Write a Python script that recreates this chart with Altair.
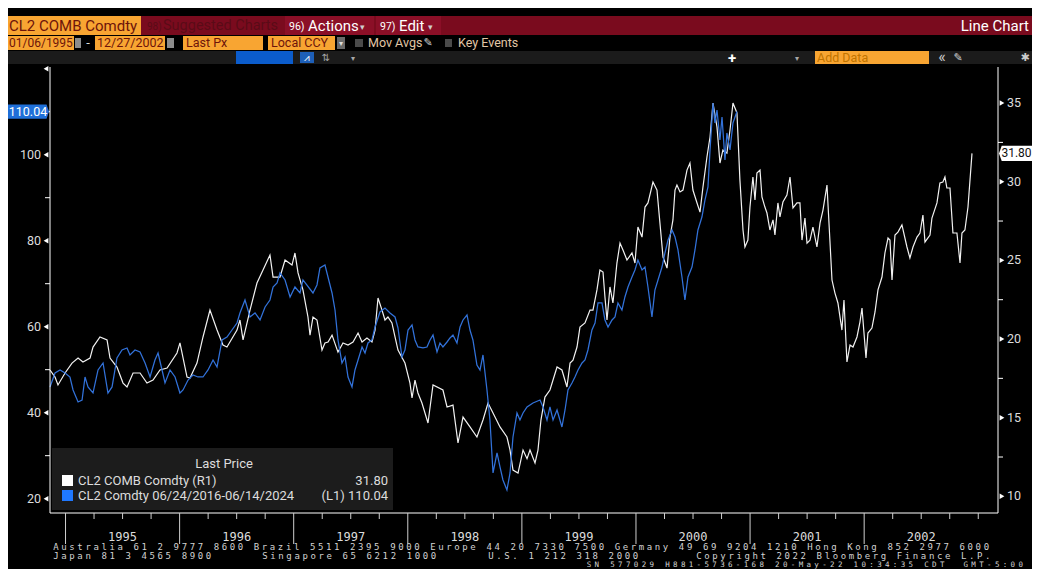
import altair as alt
import pandas as pd

# ---------------- data ----------------
# CL2 COMB Comdty (right axis), x in decimal years of the drawn time axis
white_t = [1994.864, 1994.908, 1994.934, 1994.996, 1995.057, 1995.110, 1995.153, 1995.215, 1995.241, 1995.302,
           1995.364, 1995.390, 1995.451, 1995.504, 1995.539, 1995.592, 1995.653, 1995.714, 1995.767, 1995.828,
           1995.890, 1995.977, 1996.003, 1996.065, 1996.091, 1996.152, 1996.205, 1996.266, 1996.328, 1996.380,
           1996.415, 1996.503, 1996.529, 1996.556, 1996.617, 1996.678, 1996.731, 1996.792, 1996.819, 1996.880,
           1996.924, 1996.985, 1997.011, 1997.038, 1997.081, 1997.125, 1997.143, 1997.169, 1997.204, 1997.248,
           1997.274, 1997.301, 1997.336, 1997.388, 1997.432, 1997.476, 1997.520, 1997.564, 1997.599, 1997.642,
           1997.686, 1997.713, 1997.739, 1997.774, 1997.800, 1997.826, 1997.861, 1997.888, 1997.914, 1997.975,
           1998.019, 1998.037, 1998.063, 1998.089, 1998.124, 1998.177, 1998.221, 1998.308, 1998.344, 1998.396,
           1998.440, 1998.484, 1998.545, 1998.606, 1998.659, 1998.703, 1998.747, 1998.808, 1998.869, 1998.896,
           1998.922, 1998.966, 1999.010, 1999.045, 1999.071, 1999.115, 1999.141, 1999.167, 1999.202, 1999.246,
           1999.308, 1999.351, 1999.395, 1999.422, 1999.448, 1999.483, 1999.509, 1999.553, 1999.597, 1999.623,
           1999.658, 1999.684, 1999.711, 1999.728, 1999.746, 1999.772, 1999.798, 1999.833, 1999.860, 1999.886,
           1999.921, 1999.965, 1999.991, 2000.017, 2000.053, 2000.079, 2000.105, 2000.149, 2000.184, 2000.210,
           2000.237, 2000.272, 2000.298, 2000.324, 2000.342, 2000.359, 2000.386, 2000.412, 2000.447, 2000.473,
           2000.499, 2000.535, 2000.561, 2000.587, 2000.622, 2000.649, 2000.675, 2000.710, 2000.736, 2000.762,
           2000.797, 2000.824, 2000.850, 2000.885, 2000.911, 2000.938, 2000.955, 2000.981, 2000.999, 2001.025,
           2001.043, 2001.060, 2001.087, 2001.104, 2001.130, 2001.148, 2001.174, 2001.201, 2001.218, 2001.244,
           2001.262, 2001.288, 2001.323, 2001.350, 2001.376, 2001.411, 2001.437, 2001.455, 2001.481, 2001.499,
           2001.525, 2001.551, 2001.586, 2001.613, 2001.639, 2001.674, 2001.718, 2001.744, 2001.770, 2001.805,
           2001.823, 2001.849, 2001.876, 2001.902, 2001.937, 2001.963, 2001.981, 2002.016, 2002.033, 2002.068,
           2002.095, 2002.121, 2002.156, 2002.182, 2002.209, 2002.226, 2002.244, 2002.270, 2002.296, 2002.331,
           2002.375, 2002.401, 2002.428, 2002.463, 2002.489, 2002.515, 2002.533, 2002.577, 2002.594, 2002.638,
           2002.664, 2002.690, 2002.708, 2002.725, 2002.752, 2002.778, 2002.813, 2002.840, 2002.857, 2002.883,
           2002.910, 2002.945]
white_v = [18.03, 17.58, 17.08, 17.84, 18.47, 18.79, 18.54, 18.79, 19.49, 20.13,
           19.94, 18.79, 18.22, 17.20, 16.95, 17.84, 17.84, 17.20, 17.39, 18.03,
           18.16, 19.11, 19.75, 17.58, 17.52, 18.47, 20.13, 21.84, 20.57, 19.62,
           19.49, 20.57, 21.21, 19.94, 21.84, 23.56, 24.39, 25.34, 23.94, 23.94,
           25.02, 24.70, 25.47, 24.20, 23.12, 21.40, 20.25, 21.40, 21.21, 19.30,
           19.75, 19.81, 20.25, 19.17, 19.75, 19.62, 19.81, 20.38, 19.81, 20.06,
           19.81, 20.57, 22.61, 21.84, 21.21, 21.40, 21.02, 20.13, 19.30, 18.47,
           17.20, 16.25, 17.39, 16.57, 15.93, 14.66, 17.08, 16.76, 15.68, 15.80,
           13.39, 15.04, 14.41, 13.77, 14.85, 15.93, 15.30, 14.41, 13.77, 12.94,
           11.67, 11.48, 12.94, 12.39, 12.94, 12.12, 12.94, 14.85, 16.31, 16.76,
           18.22, 18.03, 16.95, 18.47, 18.66, 19.49, 20.76, 21.02, 21.84, 21.84,
           23.12, 24.39, 24.26, 22.67, 21.21, 23.31, 22.29, 24.83, 26.10, 25.66,
           25.02, 25.47, 24.83, 27.12, 26.48, 28.39, 28.65, 29.98, 29.47, 27.37,
           25.21, 24.51, 26.48, 27.57, 29.47, 29.79, 29.35, 29.47, 30.74, 31.19,
           29.47, 28.65, 28.07, 29.66, 31.57, 32.84, 35.00, 33.48, 31.19, 32.02,
           31.82, 33.29, 35.00, 34.37, 30.10, 26.93, 25.85, 26.29, 28.39, 30.30,
           28.84, 30.55, 30.74, 29.03, 28.39, 28.01, 26.93, 27.57, 26.61, 28.65,
           27.76, 28.71, 29.15, 30.30, 28.33, 28.65, 28.65, 26.29, 27.69, 26.10,
           26.29, 27.12, 25.85, 27.37, 28.20, 29.79, 23.75, 22.92, 22.29, 20.57,
           22.48, 18.54, 19.62, 19.49, 20.13, 21.08, 21.97, 18.79, 20.38, 20.70,
           21.72, 23.12, 23.94, 25.47, 26.42, 26.29, 23.75, 26.61, 26.80, 27.25,
           25.85, 25.15, 25.85, 26.48, 26.74, 27.88, 26.17, 26.61, 27.69, 28.65,
           29.92, 29.98, 30.30, 29.60, 29.60, 26.74, 26.74, 24.83, 26.74, 26.93,
           28.39, 31.80]

# CL2 Comdty 06/24/2016-06/14/2024 (left axis), overlaid on the same time axis
blue_t = [1994.864, 1994.908, 1994.952, 1994.996, 1995.039, 1995.066, 1995.110, 1995.145, 1995.171, 1995.197,
          1995.241, 1995.285, 1995.329, 1995.372, 1995.408, 1995.451, 1995.495, 1995.539, 1995.565, 1995.609,
          1995.653, 1995.697, 1995.741, 1995.784, 1995.811, 1995.846, 1995.872, 1995.916, 1995.960, 1996.003,
          1996.030, 1996.074, 1996.117, 1996.161, 1996.205, 1996.249, 1996.293, 1996.328, 1996.372, 1996.415,
          1996.459, 1996.503, 1996.529, 1996.573, 1996.617, 1996.661, 1996.705, 1996.749, 1996.792, 1996.819,
          1996.854, 1996.880, 1996.924, 1996.968, 1997.011, 1997.055, 1997.081, 1997.169, 1997.204, 1997.230,
          1997.274, 1997.336, 1997.362, 1997.388, 1997.423, 1997.450, 1997.476, 1997.511, 1997.537, 1997.564,
          1997.599, 1997.625, 1997.651, 1997.686, 1997.713, 1997.756, 1997.800, 1997.844, 1997.888, 1997.914,
          1997.949, 1997.975, 1998.002, 1998.037, 1998.063, 1998.089, 1998.133, 1998.168, 1998.195, 1998.221,
          1998.256, 1998.282, 1998.308, 1998.344, 1998.370, 1998.396, 1998.431, 1998.458, 1998.484, 1998.519,
          1998.545, 1998.571, 1998.606, 1998.633, 1998.659, 1998.694, 1998.720, 1998.747, 1998.782, 1998.808,
          1998.834, 1998.869, 1998.896, 1998.922, 1998.957, 1998.983, 1999.010, 1999.045, 1999.097, 1999.159,
          1999.185, 1999.220, 1999.246, 1999.273, 1999.308, 1999.351, 1999.378, 1999.404, 1999.439, 1999.465,
          1999.492, 1999.527, 1999.553, 1999.579, 1999.614, 1999.641, 1999.667, 1999.702, 1999.728, 1999.755,
          1999.790, 1999.816, 1999.842, 1999.877, 1999.903, 1999.930, 1999.965, 1999.991, 2000.017, 2000.053,
          2000.079, 2000.105, 2000.140, 2000.166, 2000.193, 2000.228, 2000.254, 2000.281, 2000.316, 2000.342,
          2000.368, 2000.403, 2000.429, 2000.456, 2000.491, 2000.517, 2000.543, 2000.578, 2000.605, 2000.631,
          2000.649, 2000.675, 2000.692, 2000.710, 2000.736, 2000.754, 2000.780, 2000.797, 2000.824, 2000.850,
          2000.885]
blue_v = [45.98, 49.23, 49.93, 49.23, 48.30, 45.28, 42.49, 42.95, 48.30, 45.98,
          44.58, 49.93, 51.56, 44.58, 45.98, 52.72, 54.58, 55.05, 53.42, 54.58,
          54.12, 51.56, 48.30, 52.26, 53.88, 49.93, 46.91, 49.93, 48.30, 44.58,
          45.28, 47.60, 48.77, 48.30, 48.30, 49.93, 52.26, 50.63, 56.91, 57.60,
          59.23, 60.86, 63.19, 66.21, 62.26, 63.19, 61.56, 64.58, 66.21, 69.23,
          70.16, 72.49, 70.86, 66.91, 69.23, 67.84, 70.86, 67.84, 69.70, 73.65,
          74.35, 67.84, 63.88, 56.91, 51.56, 52.95, 48.30, 45.98, 49.93, 52.26,
          55.28, 53.88, 56.21, 56.91, 59.93, 63.42, 64.35, 63.19, 62.26, 59.70,
          52.95, 54.58, 59.23, 60.40, 56.91, 55.28, 55.05, 55.28, 56.91, 58.07,
          54.12, 56.21, 55.28, 56.44, 57.37, 58.07, 56.21, 59.93, 61.56, 62.72,
          59.23, 56.91, 51.09, 49.93, 53.42, 45.28, 38.30, 25.98, 30.63, 27.37,
          24.35, 22.02, 25.98, 34.35, 39.93, 38.30, 39.93, 41.33, 42.26, 42.95,
          41.33, 38.30, 41.33, 38.30, 40.63, 36.67, 40.63, 45.28, 46.91, 48.30,
          49.93, 51.56, 52.26, 54.58, 59.23, 60.86, 65.51, 65.51, 61.56, 59.93,
          61.56, 62.26, 65.51, 63.88, 66.91, 69.23, 71.56, 73.19, 75.51, 73.19,
          73.88, 69.23, 62.26, 68.53, 70.86, 73.88, 77.14, 80.16, 82.49, 80.86,
          77.84, 71.56, 66.21, 71.56, 73.88, 77.84, 82.49, 85.51, 89.47, 92.49,
          101.09, 112.02, 107.37, 110.40, 103.42, 108.77, 98.77, 105.05, 101.09, 107.37,
          110.04]

left_ticks = [20, 40, 60, 80, 100, 120]
left_labels = ["20", "40", "60", "80", "100"]
left_minor = [30, 50, 70, 90, 110]
right_ticks = [10, 15, 20, 25, 30, 35]
right_minor = [12.5, 17.5, 22.5, 27.5, 32.5]
years = [1995, 1996, 1997, 1998, 1999, 2000, 2001, 2002]
quarter_ticks = [1995.25, 1995.5, 1995.75, 1996.25, 1996.5, 1996.75, 1997.25, 1997.5, 1997.75,
                 1998.25, 1998.5, 1998.75, 1999.25, 1999.5, 1999.75, 2000.25, 2000.5, 2000.75,
                 2001.25, 2001.5, 2001.75, 2002.25, 2002.5, 2002.75, 2003.0]
year_label_pos = [1995.5, 1996.5, 1997.5, 1998.5, 1999.5, 2000.5, 2001.5, 2002.5]

footer_texts = [
    "Australia 61 2 9777 8600 Brazil 5511 2395 9000 Europe 44 20 7330 7500 Germany 49 69 9204 1210 Hong Kong 852 2977 6000",
    "Japan 81 3 4565 8900",
    "Singapore 65 6212 1000",
    "U.S. 1 212 318 2000",
    "Copyright 2022 Bloomberg Finance L.P.",
    "SN 577029 H881-5736-168 20-May-22 10:34:35 CDT  GMT-5:00",
]

# ---------------- layout helpers ----------------
W, H = 948, 448          # plot area
OX, OY = 50, 65          # page position of plot origin
SANS = "Roboto"
MONO = "DejaVu Sans Mono"
ORANGE = "#f8a532"
MAROON = "#6e140a"
FG = "#dcdcdc"

XS = alt.Scale(domain=[1994.864, 2003.173], nice=False, zero=False)
LS = alt.Scale(domain=[16.67, 120.86], nice=False, zero=False)
RS = alt.Scale(domain=[8.94, 37.42], nice=False, zero=False)

ONE = pd.DataFrame({"k": [0]})


def box(x1, x2, y1, y2, color):
    return alt.Chart(ONE).mark_rect(color=color, opacity=1).encode(
        x=alt.value(x1 - OX), x2=alt.value(x2 - OX),
        y=alt.value(y1 - OY), y2=alt.value(y2 - OY))


def label(x, y, s, color=FG, size=13, align="left", font=SANS, weight="normal"):
    return alt.Chart(ONE).mark_text(
        text=s, align=align, baseline="middle", color=color, fontSize=size,
        font=font, fontWeight=weight).encode(x=alt.value(x - OX), y=alt.value(y - OY))


layers = []

# ---------------- header ----------------
layers += [
    box(0, 1040, 16, 35, "#7a0b1e"),
    box(0, 141, 16, 35, ORANGE),
    label(9, 26, "CL2 COMB Comdty", MAROON, 15),
    label(147, 26.5, "98)", "#5a0b17", 10),
    label(163, 26, "Suggested Charts", "#5a0b17", 14.5),
    box(285, 374, 16, 35, "#8b0f27"),
    label(289, 26.5, "96)", "#ffffff", 10.5),
    label(308, 26, "Actions", "#ffffff", 15),
    label(362, 27, "▾", "#cfcfcf", 9, "center"),
    box(376, 441, 16, 35, "#8b0f27"),
    label(380, 26.5, "97)", "#ffffff", 10.5),
    label(399, 26, "Edit", "#ffffff", 15),
    label(430, 27, "▾", "#cfcfcf", 9, "center"),
    label(1029, 26, "Line Chart", "#ffffff", 15, "right"),
]
# second row
layers += [
    box(0, 74, 36, 50, ORANGE), label(9, 43, "01/06/1995", MAROON, 12),
    box(75, 81, 38, 48, "#8c8c8c"),
    label(88, 43, "-", "#dddddd", 13, "center"),
    box(95, 165, 36, 50, ORANGE), label(97, 43, "12/27/2002", MAROON, 12.5),
    box(167, 174, 38, 48, "#8c8c8c"),
    box(183, 263, 36, 50, ORANGE), label(186, 43, "Last Px", MAROON, 12.5),
    box(268, 335, 36, 50, ORANGE), label(271, 43, "Local CCY", MAROON, 12.5),
    box(337, 345, 37, 49, "#6a6a6a"), label(341, 44, "▾", "#dddddd", 8, "center"),
    box(355, 363, 39, 47, "#4a4a4a"),
    label(368, 43, "Mov Avgs", "#e2c6a6", 12.5),
    label(428, 43, "✎", "#cccccc", 11, "center", "DejaVu Sans"),
    box(445, 452, 39, 47, "#4a4a4a"),
    label(458, 43, "Key Events", "#e2c6a6", 12.5),
]
# third row (toolbar)
layers += [
    box(0, 1040, 51, 64, "#1b1b1b"),
    box(236, 293, 51, 64, "#0b5ccc"),
    box(300, 314, 52, 63, "#1d5fb8"),
    label(307, 57.5, "⩘", "#ffffff", 10, "center", "DejaVu Sans"),
    label(326, 57.5, "⇅", "#a8a8a8", 10, "center", "DejaVu Sans"),
    label(353, 58.5, "▾", "#a8a8a8", 8, "center"),
    label(732, 57.5, "+", "#ffffff", 15, "center", weight="bold"),
    label(797, 58.5, "▾", "#a8a8a8", 8, "center"),
    box(815, 929, 51, 64, ORANGE), label(817, 57.5, "Add Data", "#c07400", 12.5),
    label(942, 57, "«", "#cccccc", 16, "center"),
    label(958, 57.5, "✎", "#cccccc", 11, "center", "DejaVu Sans"),
    label(1025, 57.5, "✱", "#cccccc", 11, "center", "DejaVu Sans"),
]

# ---------------- data lines ----------------
white_df = pd.DataFrame({"t": white_t, "v": white_v})
blue_df = pd.DataFrame({"t": blue_t, "v": blue_v})

layers.append(alt.Chart(white_df).mark_line(color="#f2f2f2", strokeWidth=1.2).encode(
    x=alt.X("t:Q", scale=XS, axis=None), y=alt.Y("v:Q", scale=RS, axis=None)))
layers.append(alt.Chart(blue_df).mark_line(color="#3272da", strokeWidth=1.25).encode(
    x=alt.X("t:Q", scale=XS, axis=None), y=alt.Y("v:Q", scale=LS, axis=None)))

# ---------------- axes ----------------
AX = "#ffffff"
layers += [
    alt.Chart(ONE).mark_rule(color=AX, strokeWidth=1).encode(
        x=alt.value(0), y=alt.value(2), y2=alt.value(H)),
    alt.Chart(ONE).mark_rule(color=AX, strokeWidth=1).encode(
        x=alt.value(W), y=alt.value(2), y2=alt.value(H)),
    alt.Chart(ONE).mark_rule(color=AX, strokeWidth=1).encode(
        x=alt.value(0), x2=alt.value(W), y=alt.value(H)),
]
ldf = pd.DataFrame({"v": left_ticks})
lldf = pd.DataFrame({"v": left_ticks[:len(left_labels)], "s": left_labels})
lmdf = pd.DataFrame({"v": left_minor})
rdf = pd.DataFrame({"v": right_ticks, "s": [str(v) for v in right_ticks]})
rmdf = pd.DataFrame({"v": right_minor})

layers += [
    alt.Chart(ldf).mark_point(shape="triangle-left", filled=True, size=30, color=AX, opacity=1).encode(
        x=alt.value(-4), y=alt.Y("v:Q", scale=LS, axis=None)),
    alt.Chart(lldf).mark_text(align="right", baseline="middle", color=FG, fontSize=12.5, font=SANS).encode(
        x=alt.value(-9), y=alt.Y("v:Q", scale=LS, axis=None), text="s:N"),
    alt.Chart(lmdf).mark_rule(color=AX).encode(
        x=alt.value(-5), x2=alt.value(0), y=alt.Y("v:Q", scale=LS, axis=None)),
    alt.Chart(rdf).mark_point(shape="triangle-right", filled=True, size=30, color=AX, opacity=1).encode(
        x=alt.value(W + 4), y=alt.Y("v:Q", scale=RS, axis=None)),
    alt.Chart(rdf).mark_text(align="left", baseline="middle", color=FG, fontSize=12.5, font=SANS).encode(
        x=alt.value(W + 9), y=alt.Y("v:Q", scale=RS, axis=None), text="s:N"),
    alt.Chart(rmdf).mark_rule(color=AX).encode(
        x=alt.value(W), x2=alt.value(W + 5), y=alt.Y("v:Q", scale=RS, axis=None)),
]

# time axis: long year ticks, short quarter ticks, year labels
layers += [
    alt.Chart(pd.DataFrame({"t": years})).mark_rule(color="#cfcfcf").encode(
        x=alt.X("t:Q", scale=XS, axis=None), y=alt.value(H), y2=alt.value(H + 31)),
    alt.Chart(pd.DataFrame({"t": quarter_ticks})).mark_rule(color="#cfcfcf").encode(
        x=alt.X("t:Q", scale=XS, axis=None), y=alt.value(H), y2=alt.value(H + 6)),
    alt.Chart(pd.DataFrame({"t": year_label_pos, "s": [str(y) for y in years]})).mark_text(
        align="center", baseline="middle", color=FG, fontSize=12, font=MONO).encode(
        x=alt.X("t:Q", scale=XS, axis=None), y=alt.value(536.5 - OY), text="s:N"),
]

# ---------------- last value tags ----------------
BLUE_TAG = "M-1,-0.29L0.9,-0.29L1,0L0.9,0.29L-1,0.29Z"
WHITE_TAG = "M-1,0L-0.84,-0.45L1,-0.45L1,0.45L-0.84,0.45Z"
btag = pd.DataFrame({"v": [blue_v[-1]], "s": [f"{blue_v[-1]:.2f}"]})
wtag = pd.DataFrame({"v": [white_v[-1]], "s": [f"{white_v[-1]:.2f}"]})
layers += [
    alt.Chart(btag).mark_point(shape=BLUE_TAG, filled=True, size=2401, color="#1f6fd8", opacity=1, strokeWidth=0).encode(
        x=alt.value(24.5 - OX), y=alt.Y("v:Q", scale=LS, axis=None)),
    alt.Chart(btag).mark_text(align="center", baseline="middle", color="#ffffff", fontSize=12.5, font=SANS).encode(
        x=alt.value(28 - OX), y=alt.Y("v:Q", scale=LS, axis=None), text="s:N"),
    alt.Chart(wtag).mark_point(shape=WHITE_TAG, filled=True, size=1156, color="#ffffff", opacity=1, strokeWidth=0).encode(
        x=alt.value(1016 - OX), y=alt.Y("v:Q", scale=RS, axis=None)),
    alt.Chart(wtag).mark_text(align="center", baseline="middle", color="#111111", fontSize=12, font=SANS).encode(
        x=alt.value(1016.5 - OX), y=alt.Y("v:Q", scale=RS, axis=None), text="s:N"),
]

# ---------------- legend ----------------
layers += [
    box(52, 393, 448, 510, "#1c1c1c"),
    label(224, 464, "Last Price", FG, 13, "center"),
    box(62, 73, 475, 486, "#ffffff"),
    label(78, 481, "CL2 COMB Comdty  (R1)", FG, 13),
    label(388, 481, f"{white_v[-1]:.2f}", FG, 13, "right"),
    box(62, 73, 490, 501, "#1f78ff"),
    label(78, 496, "CL2 Comdty 06/24/2016-06/14/2024", FG, 13),
    label(388, 496, f"(L1) {blue_v[-1]:.2f}", FG, 13, "right"),
]

# ---------------- footer (fixed-pitch, one glyph per cell) ----------------
footer_start = [(52, 547, 9, 8.02), (52, 556, 9, 8.02), (261, 556, 9, 8.02),
                (487, 556, 9, 8.02), (695, 556, 9, 8.02), (585, 565, 7.5, 7.85)]
rows = []
for (x0, y0, fs, pitch), s in zip(footer_start, footer_texts):
    for i, ch in enumerate(s):
        if ch != " ":
            rows.append({"px": x0 - OX + i * pitch + pitch / 2, "py": y0 - OY, "c": ch, "fs": fs})
layers.append(alt.Chart(pd.DataFrame(rows)).mark_text(
    align="center", baseline="middle", color="#d2d2d2", font=MONO).encode(
    x=alt.X("px:Q", scale=None), y=alt.Y("py:Q", scale=None), text="c:N",
    size=alt.Size("fs:Q", scale=None, legend=None)))

chart = alt.layer(*layers).resolve_scale(y="independent").properties(
    width=W, height=H,
    padding={"left": 42, "top": 57, "right": 34, "bottom": 56},
    autosize=alt.AutoSizeParams(type="none"),
    background="#000000",
).configure_view(stroke=None)

chart.save("out.html", embed_options={"renderer": "svg", "actions": False})
